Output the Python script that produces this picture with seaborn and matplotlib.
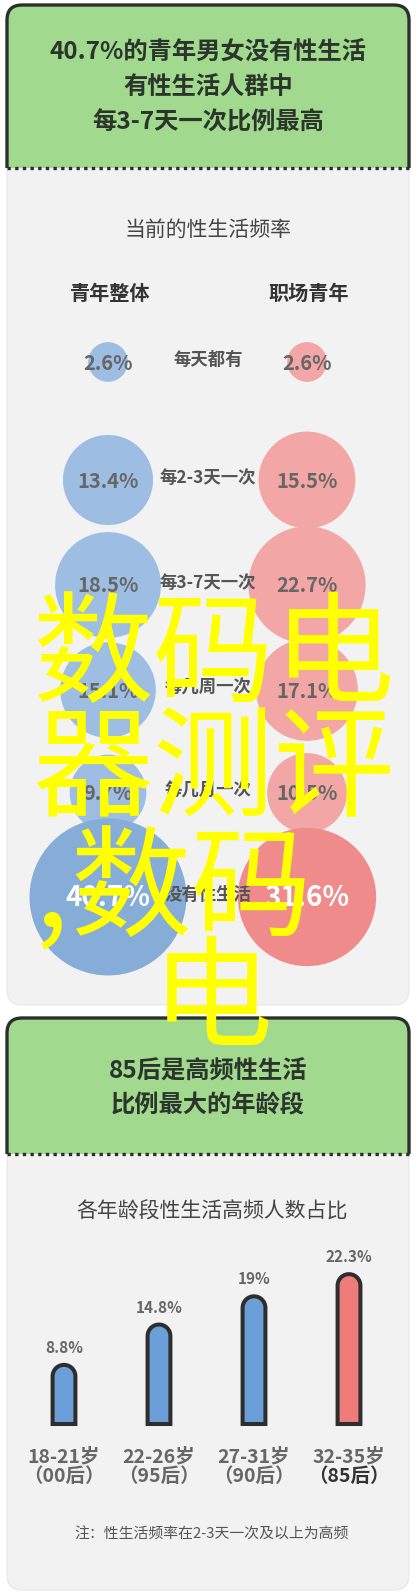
import numpy as np
import pandas as pd
import matplotlib

matplotlib.use("Agg")
import matplotlib.pyplot as plt
import seaborn as sns
from matplotlib.patches import FancyBboxPatch, PathPatch
from matplotlib.path import Path

# ---- data -------------------------------------------------------------
FREQ_LABELS = ["每天都有", "每2-3天一次", "每3-7天一次", "每几周一次", "每几月一次", "没有性生活"]
GROUPS = ["青年整体", "职场青年"]
YOUTH_ALL = [2.6, 13.4, 18.5, 15.1, 9.7, 40.7]
YOUNG_WORKERS = [2.6, 15.5, 22.7, 17.1, 10.5, 31.6]

AGE_GROUPS = ["18-21岁", "22-26岁", "27-31岁", "32-35岁"]
GENERATIONS = ["（00后）", "（95后）", "（90后）", "（85后）"]
HIGH_FREQ_SHARE = [8.8, 14.8, 19.0, 22.3]

TITLE_1 = ["40.7%的青年男女没有性生活", "有性生活人群中", "每3-7天一次比例最高"]
TITLE_2 = ["85后是高频性生活", "比例最大的年龄段"]
WATERMARK = ["数码电", "器测评", ",", "数码", "电"]

# ---- layout / style -----------------------------------------------------
W, H = 416, 1595
X0, X1 = 7, 409
MID = 208
ROW_Y = [362, 480, 585, 690, 793, 897]
COL_X = [108, 307]
GREEN = "#a1d98f"
BODY = "#f2f2f2"
DARK = "#2e2e2e"
TITLE_C = "#2b352b"
BLUE_LIGHT, RED_LIGHT = "#9dbee2", "#f2a6a6"
BLUE_DEEP, RED_DEEP = "#86acd8", "#f08b8b"
BAR_BLUE, BAR_RED = "#6a9fd8", "#f07b7b"
PX = 0.72  # points per pixel at dpi 100

sns.set_theme(style="white")
plt.rcParams["font.family"] = ["Noto Sans CJK SC", "DejaVu Sans"]

fig = plt.figure(figsize=(W / 100, H / 100), dpi=100, facecolor="white")
canvas = fig.add_axes([0, 0, 1, 1])
canvas.set_xlim(0, W)
canvas.set_ylim(H, 0)
canvas.axis("off")


def draw_panel(ax, top, split, bottom, r=15):
    body = FancyBboxPatch((X0, split - 40), X1 - X0, bottom - split + 40,
                          boxstyle=f"round,pad=0,rounding_size={r}",
                          fc=BODY, ec="#e7e7e7", lw=0.8, zorder=1)
    ax.add_patch(body)
    verts = [(X0, split), (X0, top + r), (X0, top), (X0 + r, top),
             (X1 - r, top), (X1, top), (X1, top + r), (X1, split)]
    codes = [Path.MOVETO, Path.LINETO, Path.CURVE3, Path.CURVE3,
             Path.LINETO, Path.CURVE3, Path.CURVE3, Path.LINETO]
    ax.add_patch(PathPatch(Path(verts + [(X0, split)], codes + [Path.CLOSEPOLY]),
                           fc=GREEN, ec="none", zorder=2))
    ax.add_patch(PathPatch(Path(verts, codes), fc="none", ec=DARK, lw=2.4, zorder=3))
    ax.plot([X0, X1], [split, split], color=DARK, lw=2.4, ls=(0, (1, 1.3)), zorder=3)


draw_panel(canvas, 5, 168, 1005)
draw_panel(canvas, 1018, 1154, 1590)

for y, line in zip([53, 88, 123], TITLE_1):
    canvas.text(MID, y, line, ha="center", va="center", fontsize=17.5,
                weight="black", color=TITLE_C, zorder=5)
for y, line in zip([1072, 1105], TITLE_2):
    canvas.text(MID, y, line, ha="center", va="center", fontsize=17.5,
                weight="black", color=TITLE_C, zorder=5)

canvas.text(MID, 230, "当前的性生活频率", ha="center", va="center",
            fontsize=15, color="#444444", zorder=5)
for x, g in zip(COL_X, GROUPS):
    canvas.text(x + 2, 293, g, ha="center", va="center", fontsize=14.5,
                weight="bold", color="#333333", zorder=5)

# ---- bubbles ------------------------------------------------------------
bubbles = pd.DataFrame({
    "freq": FREQ_LABELS * 2,
    "group": [GROUPS[0]] * len(FREQ_LABELS) + [GROUPS[1]] * len(FREQ_LABELS),
    "share": YOUTH_ALL + YOUNG_WORKERS,
})
bubbles["x"] = bubbles["group"].map(dict(zip(GROUPS, COL_X)))
bubbles["y"] = bubbles["freq"].map(dict(zip(FREQ_LABELS, ROW_Y)))
bubbles["tone"] = bubbles["group"] + np.where(bubbles["freq"] == FREQ_LABELS[-1], "-none", "")
palette = {GROUPS[0]: BLUE_LIGHT, GROUPS[1]: RED_LIGHT,
           GROUPS[0] + "-none": BLUE_DEEP, GROUPS[1] + "-none": RED_DEEP}
sns.scatterplot(data=bubbles, x="x", y="y", hue="tone", palette=palette,
                size="share", sizes=(0, 313.7 * 50), size_norm=(0, 50),
                linewidth=0, legend=False, ax=canvas, zorder=4)

for _, row in bubbles.iterrows():
    last = row["freq"] == FREQ_LABELS[-1]
    canvas.text(row["x"], row["y"] + 1, f"{row['share']:.1f}%", ha="center", va="center",
                fontsize=20 if last else 14.5, weight="black",
                color="white" if last else "#666666", zorder=6)
for y, lab in zip(ROW_Y, FREQ_LABELS):
    canvas.text(MID, y - 2, lab, ha="center", va="center", fontsize=12.5,
                weight="bold", color="#555555", zorder=6)

canvas.set_xlim(0, W)
canvas.set_ylim(H, 0)
canvas.set_xlabel("")
canvas.set_ylabel("")

# ---- bars ---------------------------------------------------------------
canvas.text(212, 1212, "各年龄段性生活高频人数占比", ha="center", va="center",
            fontsize=15, color="#444444", zorder=5)

bar_ax = fig.add_axes([16.5 / W, (H - 1424) / H, 380 / W, 168 / H])
bar_ax.patch.set_alpha(0)
sns.barplot(x=AGE_GROUPS, y=HIGH_FREQ_SHARE, hue=AGE_GROUPS,
            palette=[BAR_BLUE, BAR_BLUE, BAR_BLUE, BAR_RED], saturation=1,
            width=0.24, legend=False, ax=bar_ax)
bar_ax.set_xlim(-0.5, 3.5)
bar_ax.set_ylim(0, 25)
bar_ax.axis("off")

to_canvas = bar_ax.transData + canvas.transData.inverted()
for i, patch in enumerate(bar_ax.patches):
    bx0, by0 = patch.get_x(), patch.get_y()
    bx1, by1 = bx0 + patch.get_width(), by0 + patch.get_height()
    (cx0, cy_base), (cx1, cy_top) = to_canvas.transform([(bx0, by0), (bx1, by1)])
    r = (cx1 - cx0) / 2
    t = np.linspace(np.pi, 0, 30)
    arc = np.column_stack([cx0 + r + r * np.cos(t), cy_top + r - r * np.sin(t)])
    pts = np.vstack([[cx0, cy_base], arc, [cx1, cy_base], [cx0, cy_base]])
    canvas.add_patch(PathPatch(Path(pts, closed=True), fc=patch.get_facecolor(),
                               ec=DARK, lw=2.9, zorder=5))
    patch.set_visible(False)

    mid = bx0 + patch.get_width() / 2
    val = HIGH_FREQ_SHARE[i]
    bar_ax.annotate(f"{val:g}%", xy=(mid, val), xytext=(0, 17 * PX), textcoords="offset points",
                    ha="center", va="center", fontsize=11, weight="black", color="#666666")
    bar_ax.annotate(AGE_GROUPS[i], xy=(mid, 0), xytext=(0, -33 * PX), textcoords="offset points",
                    ha="center", va="center", fontsize=14, weight="bold", color="#666666",
                    annotation_clip=False)
    last = i == len(AGE_GROUPS) - 1
    bar_ax.annotate(GENERATIONS[i], xy=(mid, 0), xytext=(0, -52 * PX), textcoords="offset points",
                    ha="center", va="center", fontsize=14, weight="black" if last else "bold",
                    color="#333333" if last else "#666666", annotation_clip=False)

canvas.text(212, 1535, "注：性生活频率在2-3天一次及以上为高频", ha="center", va="center",
            fontsize=10.7, color="#555555", zorder=5)

# ---- watermark ----------------------------------------------------------
wm = dict(fontsize=87, color="#ffff00", weight="medium", va="center", zorder=20)
canvas.text(32, 659, WATERMARK[0], ha="left", **wm)
canvas.text(32, 774, WATERMARK[1], ha="left", **wm)
canvas.text(35, 893, WATERMARK[2], ha="left", **wm)
canvas.text(70, 893, WATERMARK[3], ha="left", **wm)
canvas.text(212, 1003, WATERMARK[4], ha="center", **wm)

fig.savefig("out.png", dpi=100, facecolor="white")
